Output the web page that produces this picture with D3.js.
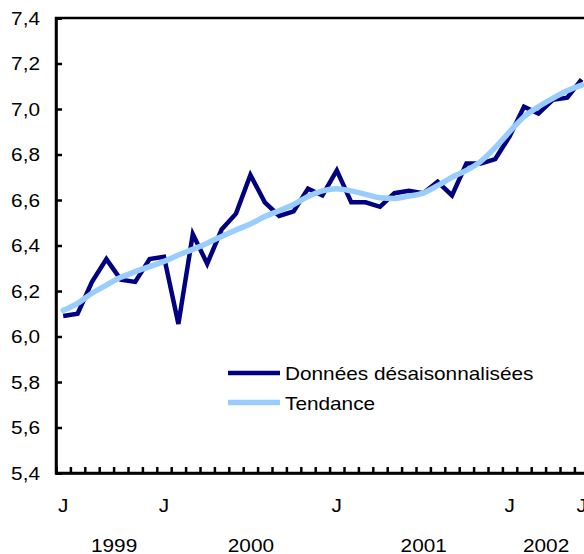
<!DOCTYPE html>
<html>
<head>
<meta charset="utf-8">
<script src="https://cdn.jsdelivr.net/npm/d3@7"></script>
<style>
  body { margin: 0; background: #fff; }
  text { font-family: "Liberation Sans", Arial, sans-serif; font-size: 18px; fill: #000; }
</style>
</head>
<body>
<div class="chart"></div>
<script>
// data: monthly values, June 1999 to June 2002
var months = [
  "juin 1999", "juil 1999", "août 1999", "sept 1999", "oct 1999", "nov 1999", "déc 1999",
  "janv 2000", "févr 2000", "mars 2000", "avr 2000", "mai 2000", "juin 2000",
  "juil 2000", "août 2000", "sept 2000", "oct 2000", "nov 2000", "déc 2000",
  "janv 2001", "févr 2001", "mars 2001", "avr 2001", "mai 2001", "juin 2001",
  "juil 2001", "août 2001", "sept 2001", "oct 2001", "nov 2001", "déc 2001",
  "janv 2002", "févr 2002", "mars 2002", "avr 2002", "mai 2002", "juin 2002"
];

var seasAdj = [
  6.09, 6.10, 6.24, 6.34, 6.25, 6.24, 6.34,
  6.35, 6.055, 6.45, 6.32, 6.47, 6.54,
  6.71, 6.59, 6.53, 6.55, 6.65, 6.62,
  6.73, 6.59, 6.59, 6.57, 6.63, 6.64,
  6.63, 6.68, 6.62, 6.76, 6.76, 6.78,
  6.88, 7.01, 6.98, 7.04, 7.05, 7.13
];

var trend = [
  6.115, 6.146, 6.19, 6.226, 6.26, 6.285, 6.307,
  6.33, 6.358, 6.383, 6.41, 6.44, 6.468,
  6.494, 6.527, 6.553, 6.58, 6.615, 6.64,
  6.65, 6.64, 6.625, 6.61, 6.607, 6.617,
  6.63, 6.663, 6.70, 6.73, 6.77, 6.83,
  6.90, 6.966, 7.01, 7.047, 7.08, 7.105
];

var yTicks = [5.4, 5.6, 5.8, 6.0, 6.2, 6.4, 6.6, 6.8, 7.0, 7.2, 7.4];
var jMonths = ["juin 1999", "janv 2000", "janv 2001", "janv 2002", "juin 2002"];
var years = ["1999", "2000", "2001", "2002"];
var yearPos = [3.5, 13, 25, 33.5];   // month index the year label sits on
var seriesNames = ["Données désaisonnalisées", "Tendance"];
var seriesColors = ["#000080", "#99ccff"];

var svgWidth = 584;
var svgHeight = 554;
var margin = { top: 18, left: 56, bottom: 81 };
var bandW = 14.4;
var sx = 1.155;   // the original text is a bit wider than Arial

var svg = d3.select(".chart").append("svg")
  .attr("width", svgWidth)
  .attr("height", svgHeight);

var plotBottom = svgHeight - margin.bottom;

var xBand = d3.scaleBand()
  .domain(months)
  .range([margin.left, margin.left + months.length * bandW]);
var xIdx = d3.scaleLinear()
  .domain([0, months.length])
  .range(xBand.range());
var yScale = d3.scaleLinear()
  .domain([5.4, 7.4])
  .range([plotBottom, margin.top]);

var fmt = function(d) { return d3.format(".1f")(d).replace(".", ","); };

// frame (right edge falls outside the picture)
svg.append("rect")
  .attr("x", margin.left)
  .attr("y", margin.top)
  .attr("width", months.length * bandW)
  .attr("height", plotBottom - margin.top)
  .attr("fill", "none")
  .attr("stroke", "#000")
  .attr("stroke-width", 2.5);

// y axis, ticks inward
var yAxis = d3.axisRight(yScale).tickValues(yTicks).tickSize(6).tickFormat(fmt);
var gy = svg.append("g")
  .attr("transform", "translate(" + margin.left + ",0)")
  .call(yAxis);
gy.select(".domain").attr("stroke-width", 2.5);
gy.selectAll(".tick line").attr("stroke-width", 2.5);
gy.selectAll(".tick text")
  .attr("x", null)
  .attr("dy", "0.35em")
  .attr("text-anchor", "end")
  .attr("transform", "translate(-16,0) scale(" + sx + ",1)");
gy.attr("font-size", null).attr("font-family", null);

// x axis, month boundaries, ticks upward
var xAxis = d3.axisBottom(xIdx)
  .tickValues(d3.range(1, months.length + 1))
  .tickSize(-6)
  .tickFormat("");
var gx = svg.append("g")
  .attr("transform", "translate(0," + plotBottom + ")")
  .call(xAxis);
gx.select(".domain").attr("stroke-width", 2.5);
gx.selectAll(".tick line").attr("stroke-width", 2.5);

// "J" labels
var gj = svg.append("g")
  .attr("transform", "translate(0," + plotBottom + ")")
  .call(d3.axisBottom(xBand).tickValues(jMonths).tickSize(0).tickFormat(function() { return "J"; }))
  .attr("font-size", null).attr("font-family", null);
gj.select(".domain").remove();
gj.selectAll(".tick text")
  .attr("y", null).attr("dy", null)
  .attr("transform", "translate(0,39) scale(" + sx + ",1)");

// year labels
var gyr = svg.append("g")
  .attr("transform", "translate(0," + plotBottom + ")")
  .call(d3.axisBottom(xIdx)
    .tickValues(yearPos.map(function(p) { return p + 0.5; }))
    .tickSize(0)
    .tickFormat(function(d, i) { return years[i]; }))
  .attr("font-size", null).attr("font-family", null);
gyr.select(".domain").remove();
gyr.selectAll(".tick text")
  .attr("y", null).attr("dy", null)
  .attr("transform", "translate(0,78.5) scale(" + sx + ",1)");

// lines
var line = d3.line()
  .x(function(d, i) { return xBand(months[i]) + xBand.bandwidth() / 2; })
  .y(function(d) { return yScale(d); });

svg.append("path")
  .datum(seasAdj)
  .attr("d", line)
  .attr("fill", "none")
  .attr("stroke", seriesColors[0])
  .attr("stroke-width", 4.5)
  .attr("stroke-linejoin", "miter");

svg.append("path")
  .datum(trend)
  .attr("d", line.curve(d3.curveMonotoneX))
  .attr("fill", "none")
  .attr("stroke", seriesColors[1])
  .attr("stroke-width", 5.5)
  .attr("stroke-linecap", "round");

// legend
var legend = svg.selectAll(".legend")
  .data(seriesNames)
  .enter()
  .append("g")
  .attr("class", "legend")
  .attr("transform", function(d, i) { return "translate(228," + (373 + i * 29.5) + ")"; });

legend.append("line")
  .attr("x1", 0).attr("x2", 52)
  .attr("stroke", function(d, i) { return seriesColors[i]; })
  .attr("stroke-width", function(d, i) { return i === 0 ? 4.5 : 5.5; });

legend.append("text")
  .attr("transform", "translate(57,7) scale(" + sx + ",1)")
  .text(function(d) { return d; });
</script>
</body>
</html>
